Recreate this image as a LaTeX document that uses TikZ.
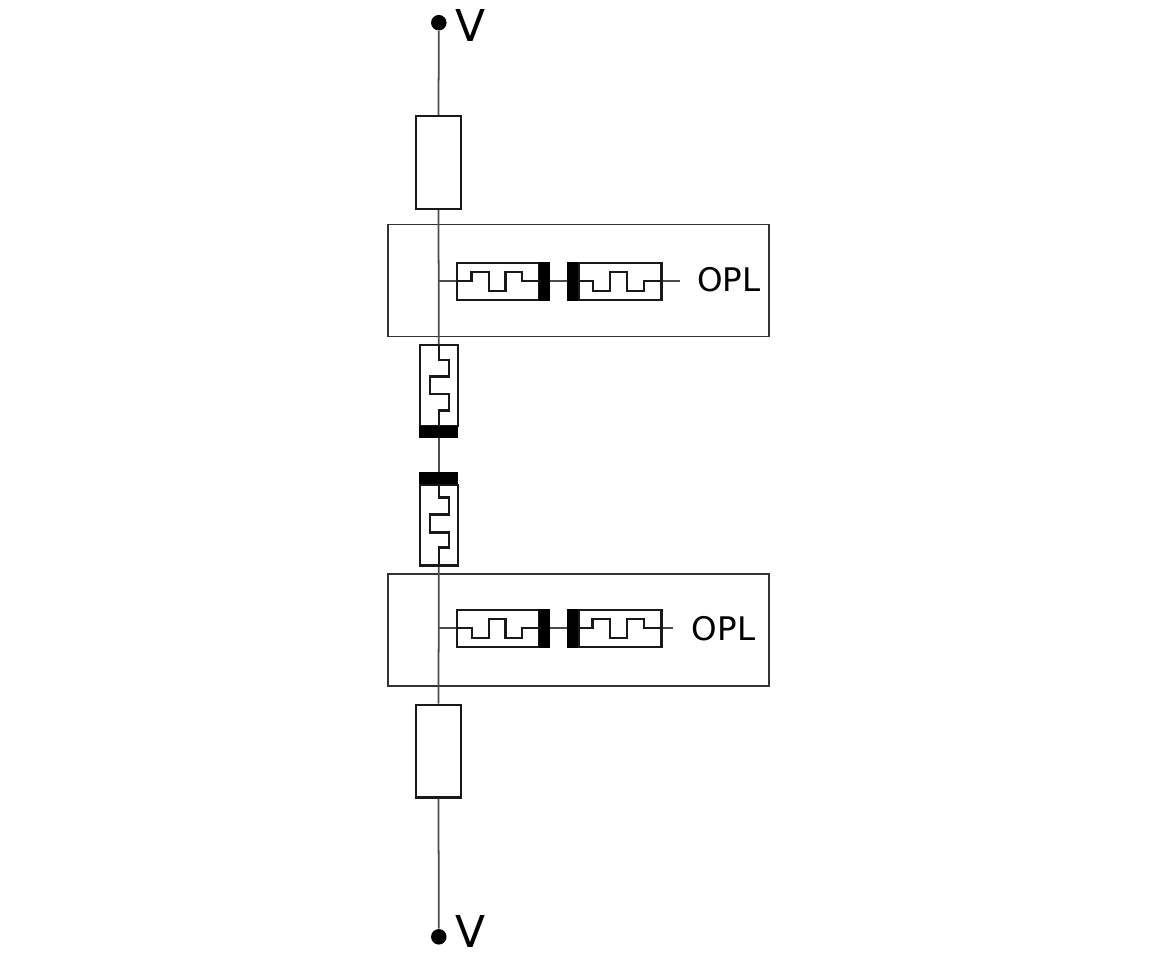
\documentclass[tikz,border=0pt]{standalone}
\usepackage{fontspec}
\setmainfont{DejaVu Sans}
\begin{document}
\begin{tikzpicture}[x=0.02cm, y=-0.02cm]
    \tikzstyle{dot} = [circle, fill=black, inner sep=0pt, minimum size=0.31cm]
    \tikzstyle{res} = [rectangle, draw=black!90, line width=1.15pt, minimum width=0.9cm, minimum height=1.86cm]
    \tikzstyle{panel} = [rectangle, draw=black!80, line width=1pt, minimum width=7.62cm, minimum height=2.24cm]
    \tikzstyle{cellh} = [rectangle, draw=black!90, line width=1.15pt, inner sep=0pt, minimum width=1.66cm, minimum height=0.75cm]
    \tikzstyle{cellv} = [rectangle, draw=black!90, line width=1.15pt, inner sep=0pt, minimum width=0.75cm, minimum height=1.62cm]
    \tikzstyle{barh} = [rectangle, fill=black, inner sep=0pt, minimum width=0.22cm, minimum height=0.78cm]
    \tikzstyle{barv} = [rectangle, fill=black, inner sep=0pt, minimum width=0.78cm, minimum height=0.24cm]
    \tikzstyle{wire} = [draw=black!70, line width=1pt]
    \tikzstyle{zig} = [draw=black!90, line width=1.15pt]
    \tikzstyle{lab} = [inner sep=0pt, font=\fontsize{18.5}{22}\selectfont]
    \tikzstyle{bigv} = [inner sep=0pt, font=\fontsize{25}{29}\selectfont]
    \useasboundingbox (0,0) rectangle (1151,953);

    % main column
    \node[dot] (Vtop) at (438.8,22.7) {};
    \node[dot] (Vbot) at (438.8,936.8) {};
    \node[res] (R1) at (438.5,162.5) {};
    \node[res] (R2) at (438.5,751) {};
    \node[panel] (P1) at (578.5,280.5) {};
    \node[panel] (P2) at (578.5,630) {};
    \node[cellv] (F1) at (438.8,385.5) {};
    \node[barv] (F1b) at (438.8,431.5) {};
    \node[cellv] (F2) at (438.8,525) {};
    \node[barv] (F2b) at (438.8,478) {};
    \draw[wire] (Vtop) -- (R1.north);
    \draw[wire] (R1.south) -- (F1.north);
    \draw[wire] (F1b.south) -- (F2b.north);
    \draw[wire] (F2.south) -- (R2.north);
    \draw[wire] (R2.south) -- (Vbot);
    \draw[zig] (F1.north) -- ++(0,16) -- ++(10,0) -- ++(0,16.5) -- ++(-18.5,0) -- ++(0,17.5) -- ++(18.5,0) -- ++(0,16.5) -- ++(-10,0) -- (F1.south);
    \draw[zig] (F2.north) -- ++(0,14) -- ++(10,0) -- ++(0,17) -- ++(-18.5,0) -- ++(0,18) -- ++(18.5,0) -- ++(0,15) -- ++(-10,0) -- (F2.south);

    % upper panel
    \coordinate (J1) at (438.8,281.3);
    \node[cellh] (A1) at (498,281.3) {};
    \node[barh] (A1b) at (544.5,281.3) {};
    \node[barh] (C1b) at (572.5,281.3) {};
    \node[cellh] (C1) at (620,281.3) {};
    \coordinate (E1) at (680,281.3);
    \node[lab] (T1) at (729,280) {OPL};
    \draw[wire] (J1) -- (A1.west);
    \draw[wire] (A1b.east) -- (C1b.west);
    \draw[wire] (C1.east) -- (E1);
    \draw[zig] (A1.west) -- ++(16,0) -- ++(0,-9.6) -- ++(17.3,0) -- ++(0,19) -- ++(16.7,0) -- ++(0,-19) -- ++(16.6,0) -- ++(0,9.6) -- (A1.east);
    \draw[zig] (C1.west) -- ++(15.3,0) -- ++(0,9.4) -- ++(16.7,0) -- ++(0,-19) -- ++(17.3,0) -- ++(0,19) -- ++(16.7,0) -- ++(0,-9.4) -- (C1.east);

    % lower panel
    \coordinate (J2) at (438.8,628.3);
    \node[cellh] (A2) at (498,628.3) {};
    \node[barh] (A2b) at (544.5,628.3) {};
    \node[barh] (C2b) at (572.5,628.3) {};
    \node[cellh] (C2) at (620,628.3) {};
    \coordinate (E2) at (673,628.3);
    \node[lab] (T2) at (723.5,629) {OPL};
    \draw[wire] (J2) -- (A2.west);
    \draw[wire] (A2b.east) -- (C2b.west);
    \draw[wire] (C2.east) -- (E2);
    \draw[zig] (A2.west) -- ++(16.6,0) -- ++(0,10) -- ++(16.7,0) -- ++(0,-19.3) -- ++(16.7,0) -- ++(0,19.3) -- ++(16.6,0) -- ++(0,-10) -- (A2.east);
    \draw[zig] (C2.west) -- ++(15,0) -- ++(0,-9.3) -- ++(17,0) -- ++(0,19.3) -- ++(17,0) -- ++(0,-19.3) -- ++(17,0) -- ++(0,9.3) -- (C2.east);

    \node[bigv] (Vt) at (471,25.5) {V};
    \node[bigv] (Vb) at (471,931) {V};
\end{tikzpicture}
\end{document}
